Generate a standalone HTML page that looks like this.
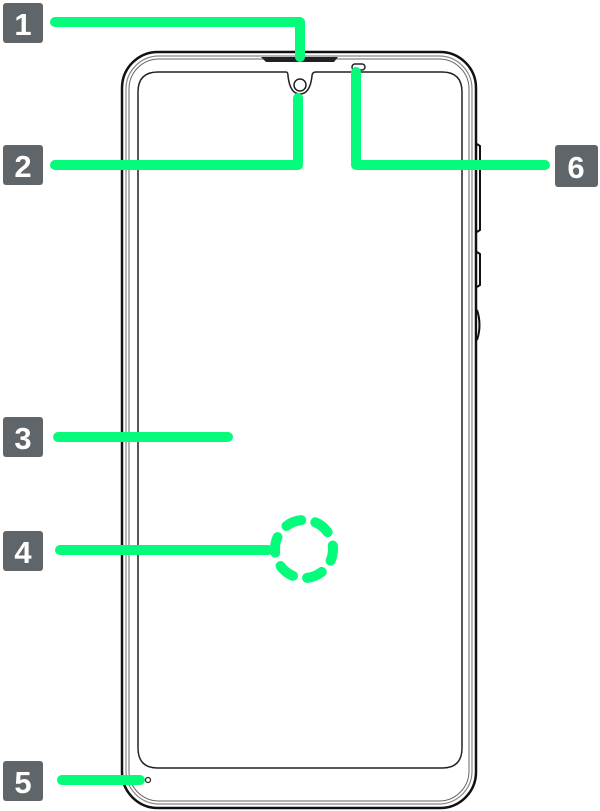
<!DOCTYPE html>
<html><head><style>body{margin:0;background:#fff}svg{display:block}</style></head><body>
<svg width="600" height="811" viewBox="0 0 600 811" xmlns="http://www.w3.org/2000/svg">
<rect x="122" y="52" width="354" height="756" rx="36" fill="#fff" stroke="#111" stroke-width="2.5"/>
<rect x="126" y="56" width="346" height="748" rx="33" fill="none" stroke="#888" stroke-width="1.2"/>
<rect x="129" y="59" width="340" height="742" rx="30" fill="none" stroke="#666" stroke-width="1"/>
<path d="M477 144 L480 146 L480 230 L477 232" fill="none" stroke="#111" stroke-width="2"/>
<path d="M477 252 L480 254 L480 285 L477 287" fill="none" stroke="#111" stroke-width="2"/>
<path d="M477 310 Q482 325 477 340" fill="#ddd" stroke="#111" stroke-width="2"/>
<path d="M158 72 H286 Q288 72 288 76 Q290 94 300 94 Q310 94 312 76 Q312 72 316 72 H442 Q462 72 462 92 V748 Q462 768 442 768 H158 Q138 768 138 748 V92 Q138 72 158 72 Z" fill="none" stroke="#222" stroke-width="1.5"/>
<path d="M261 57 H338 L334 62 H266 Z" fill="#222"/>
<circle cx="300" cy="85" r="6" fill="none" stroke="#222" stroke-width="1.5"/>
<rect x="352" y="64" width="13" height="6" rx="3" fill="none" stroke="#222" stroke-width="1.5"/>
<circle cx="148" cy="780" r="2.5" fill="none" stroke="#222" stroke-width="1.2"/>
<g fill="none" stroke="#05fb7a" stroke-width="10" stroke-linecap="round" stroke-linejoin="round">
<path d="M55 22 H300 V57"/>
<path d="M55 165 H298 V98"/>
<path d="M356 72 V165 H545"/>
<path d="M58 437 H228"/>
<path d="M60 550 H268"/>
<path d="M62 780 H140"/>
<circle cx="304" cy="549" r="29" stroke-dasharray="16 14.4" stroke-dashoffset="4" stroke-linecap="round"/>
</g>
<g font-family="Liberation Sans, sans-serif" font-weight="bold" font-size="31" fill="#fff" text-anchor="middle">
<rect x="3" y="3" width="40" height="40" rx="3" fill="#5f6568"/><text x="23" y="35">1</text>
<rect x="3" y="145" width="40" height="40" rx="3" fill="#5f6568"/><text x="23" y="177">2</text>
<rect x="3" y="417" width="40" height="40" rx="3" fill="#5f6568"/><text x="23" y="449">3</text>
<rect x="3" y="531" width="40" height="40" rx="3" fill="#5f6568"/><text x="23" y="563">4</text>
<rect x="3" y="761" width="40" height="40" rx="3" fill="#5f6568"/><text x="23" y="793">5</text>
<rect x="555" y="145" width="43" height="42" rx="3" fill="#5f6568"/><text x="576" y="178">6</text>
</g>
</svg>
</body></html>
